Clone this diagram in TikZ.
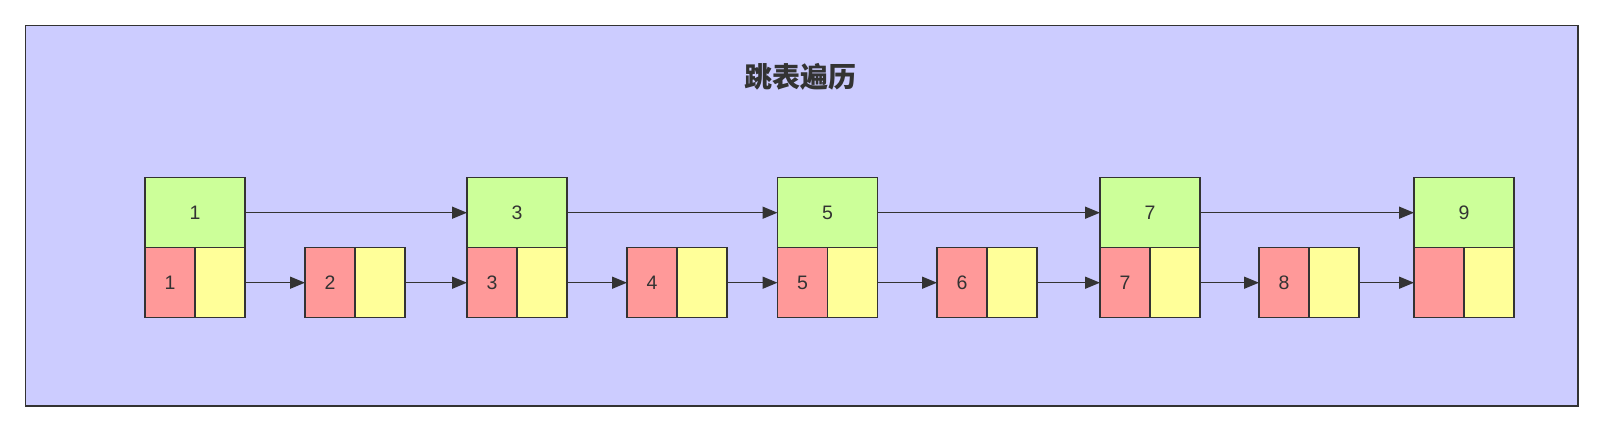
\documentclass[tikz,border=0pt]{standalone}
\usepackage{fontspec}
\setmainfont{Liberation Sans}
\newfontfamily\cjk{Noto Sans CJK SC}
\usetikzlibrary{arrows.meta}

\definecolor{framebg}{HTML}{CCCCFF}
\definecolor{keygreen}{HTML}{CCFF99}
\definecolor{valred}{HTML}{FF9999}
\definecolor{ptryellow}{HTML}{FFFF99}
\definecolor{ink}{HTML}{333333}

\begin{document}
\begin{tikzpicture}[x=1pt,y=-1pt,
  box/.style={draw=ink, line width=1.5pt, inner sep=0pt, outer sep=0pt,
    text=ink, font=\fontsize{19.5}{20}\selectfont},
  keybox/.style={box, fill=keygreen, minimum width=100pt, minimum height=70pt},
  valbox/.style={box, fill=valred, minimum width=50pt, minimum height=70pt},
  ptrbox/.style={box, fill=ptryellow, minimum width=50pt, minimum height=70pt},
  link/.style={draw=ink, line width=1.5pt, -{Triangle[length=15pt,width=12pt]}}]
\useasboundingbox (0,0) rectangle (1604,432);
\draw[draw=ink, line width=1.8pt, fill=framebg] (25.5,25.5) rectangle (1578,405.7);
\node[font=\cjk\bfseries\fontsize{28}{28}\selectfont, text=ink] (title) at (800,77) {跳表遍历};
% bottom level: value + pointer
\foreach \k/\x/\v in {1/145/1, 2/305/2, 3/467/3, 4/627/4, 5/777.5/5, 6/937/6, 7/1100/7, 8/1259/8, 9/1414/{}} {
 \node[valbox, anchor=north west] (val\k) at (\x,247.7) {\v};
 \node[ptrbox, anchor=north west] (ptr\k) at (val\k.north east) {};
}
% upper level
\foreach \k in {1,3,5,7,9} {
 \node[keybox, anchor=south west] (key\k) at (val\k.north west) {\k};
}
\foreach \a/\b in {1/2, 2/3, 3/4, 4/5, 5/6, 6/7, 7/8, 8/9} {
 \draw[link] (ptr\a.east) -- (val\b.west);
}
\foreach \a/\b in {1/3, 3/5, 5/7, 7/9} {
 \draw[link] (key\a.east) -- (key\b.west);
}
\end{tikzpicture}
\end{document}
